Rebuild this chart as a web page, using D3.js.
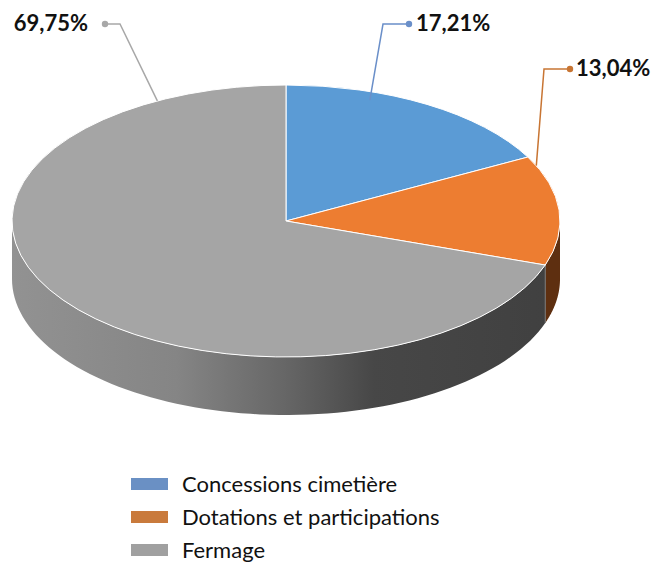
<!DOCTYPE html>
<html>
<head>
<meta charset="utf-8">
<script src="https://cdn.jsdelivr.net/npm/d3@7"></script>
<style>
  body { margin: 0; background: #fff; }
  svg { display: block; font-family: Lato, "DejaVu Sans", sans-serif; }
</style>
</head>
<body>
<div class="pie-container"></div>
<script>
// Data.
const categories = ["Concessions cimetière", "Dotations et participations", "Fermage"];
const values = [17.21, 13.04, 69.75];
const valueLabels = ["17,21%", "13,04%", "69,75%"];

// Colours.
const topColors = ["#5b9bd5", "#ed7d31", "#a5a5a5"];
const sideColors = ["#2c5a88", "#5e2f10", "url(#graySide)"];
const lineColors = ["#6a8fc9", "#c87533", "#a8a8a8"];
const legendColors = ["#6a90c4", "#c97a3c", "#a0a0a0"];

// Label layout: text anchor point and the angle (deg from 12 o'clock) where the leader hits the pie.
const labelLayout = [
  { x: 416, y: 31, dotX: 409, elbowX: 383, hitAngle: 19, hitR: 0.94 },
  { x: 576, y: 76, dotX: 570, elbowX: 544, hitAngle: 66, hitR: 1.0 },
  { x: 88, y: 31, dotX: 105, elbowX: 120, hitAngle: 332, hitR: 1.0, anchor: "end" },
];

const W = 668, H = 562;
const cx = 286, cy = 221, rx = 274, ry = 136, depth = 58;

const svg = d3.select(".pie-container").append("svg")
  .attr("width", W).attr("height", H);

const defs = svg.append("defs");
const grad = defs.append("linearGradient")
  .attr("id", "graySide")
  .attr("gradientUnits", "userSpaceOnUse")
  .attr("x1", cx - rx).attr("x2", cx + rx).attr("y1", 0).attr("y2", 0);
[[0, "#929292"], [0.3, "#858585"], [0.5, "#666"], [0.66, "#474747"], [1, "#404040"]]
  .forEach(([o, c]) => grad.append("stop").attr("offset", o).attr("stop-color", c));

const pie = d3.pie().sort(null).value((d) => d);
const arcs = pie(values);

// point on the ellipse for a d3 angle (0 = top, clockwise)
function pt(a, r = 1, dy = 0) {
  return [cx + rx * r * Math.sin(a), cy - ry * r * Math.cos(a) + dy];
}

// Draw sides (front half only: angles between PI/2 and 3PI/2).
const sides = svg.append("g").attr("class", "sides");
arcs.forEach((d, i) => {
  const a0 = Math.max(d.startAngle, Math.PI / 2);
  const a1 = Math.min(d.endAngle, 1.5 * Math.PI);
  if (a1 <= a0) return;
  const n = 80;
  const top = d3.range(n + 1).map((k) => pt(a0 + (a1 - a0) * k / n));
  const bot = top.slice().reverse().map(([x, y]) => [x, y + depth]);
  sides.append("path")
    .attr("d", d3.line()(top.concat(bot)) + "Z")
    .attr("fill", sideColors[i]);
  // dividing edge at slice boundary
  if (d.startAngle > Math.PI / 2 && d.startAngle < 1.5 * Math.PI) {
    const [x, y] = pt(d.startAngle);
    sides.append("line")
      .attr("x1", x).attr("y1", y).attr("x2", x).attr("y2", y + depth)
      .attr("stroke", "#777").attr("stroke-width", 1);
  }
});

// Draw top.
const arc = d3.arc().innerRadius(0).outerRadius(rx);
svg.append("g")
  .attr("transform", `translate(${cx},${cy}) scale(1,${ry / rx})`)
  .selectAll("path")
  .data(arcs)
  .join("path")
  .attr("d", arc)
  .attr("fill", (d, i) => topColors[i])
  .attr("stroke", "#fff")
  .attr("stroke-width", 1)
  .attr("vector-effect", "non-scaling-stroke");

// Data labels with leader lines.
const labels = svg.append("g").attr("class", "labels");
arcs.forEach((d, i) => {
  const L = labelLayout[i];
  const [hx, hy] = pt(L.hitAngle * Math.PI / 180, L.hitR);
  const ly = L.y - 7;
  labels.append("polyline")
    .attr("points", `${L.dotX},${ly} ${L.elbowX},${ly} ${hx},${hy}`)
    .attr("fill", "none")
    .attr("stroke", lineColors[i])
    .attr("stroke-width", 1.5);
  labels.append("circle")
    .attr("cx", L.dotX).attr("cy", ly).attr("r", 3.2)
    .attr("fill", lineColors[i]);
  labels.append("text")
    .attr("x", L.x).attr("y", L.y)
    .attr("text-anchor", L.anchor || "start")
    .attr("font-size", 22)
    .attr("font-weight", "bold")
    .attr("fill", "#111")
    .text(valueLabels[i]);
});

// Legend.
const legend = svg.append("g").attr("class", "legend");
categories.forEach((c, i) => {
  const y = 484 + i * 33;
  legend.append("rect")
    .attr("x", 131).attr("y", y - 6).attr("width", 37).attr("height", 12)
    .attr("fill", legendColors[i]);
  legend.append("text")
    .attr("x", 182).attr("y", y + 8)
    .attr("font-size", 22)
    .attr("fill", "#111")
    .text(c);
});
</script>
</body>
</html>
